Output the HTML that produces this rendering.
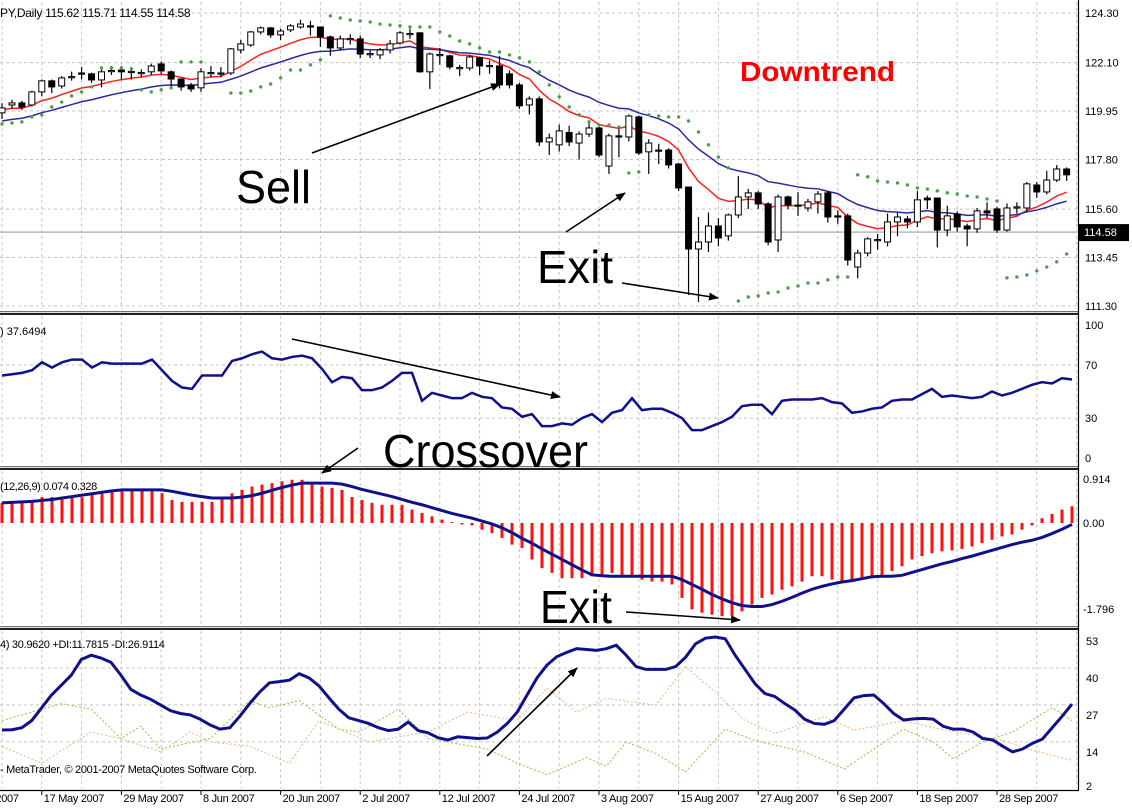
<!DOCTYPE html>
<html><head><meta charset="utf-8"><style>
html,body{margin:0;padding:0;background:#fff;}
svg{display:block;font-family:"Liberation Sans",sans-serif;}
</style></head><body>
<svg id="chart" width="1132" height="810" viewBox="0 0 1132 810" xmlns="http://www.w3.org/2000/svg">
<defs><marker id="ah" markerWidth="10" markerHeight="8" refX="9" refY="4" orient="auto" markerUnits="userSpaceOnUse"><path d="M0,0 L10,4 L0,8 z" fill="#000"/></marker></defs>
<rect x="0" y="0" width="1132" height="810" fill="#fff"/>
</svg>
<script>
const opens=[119.87,120.22,120.31,120.22,120.80,121.29,121.06,121.44,121.64,121.60,121.33,121.73,121.77,121.69,121.64,121.69,122.04,121.69,121.37,121.11,120.98,121.64,121.64,121.64,122.66,122.88,123.46,123.64,123.33,123.55,123.68,123.73,123.68,123.24,122.75,123.15,123.15,122.48,122.44,122.66,122.97,123.37,123.42,121.69,122.44,122.40,121.86,121.86,122.31,121.95,121.95,121.60,121.11,120.22,120.49,118.58,118.45,119.00,118.53,118.93,119.20,117.51,118.85,118.80,119.69,118.14,118.22,118.22,117.60,116.58,113.83,114.14,114.85,114.41,115.34,116.14,116.32,115.83,114.23,116.14,115.78,115.65,115.92,116.32,115.30,115.30,113.03,113.65,114.23,114.14,115.03,115.16,115.03,116.09,116.09,114.67,115.38,114.85,114.72,115.52,115.61,114.67,115.68,115.65,116.67,116.36,116.89,117.38];
const closes=[120.09,120.31,120.13,120.80,121.29,121.02,121.42,121.48,121.62,121.33,121.69,121.75,121.69,121.71,121.66,121.95,121.73,121.37,121.02,120.93,121.69,121.66,121.62,122.71,122.93,123.46,123.64,123.33,123.50,123.73,123.81,123.71,123.24,122.75,123.15,123.17,122.48,122.50,122.66,122.93,123.42,123.39,121.69,122.48,122.46,121.91,121.88,122.35,121.95,121.97,121.11,121.11,120.18,120.49,118.58,118.76,119.07,118.58,118.93,119.20,118.00,118.85,118.83,119.73,118.09,118.53,118.20,117.56,116.54,113.83,114.14,114.85,114.32,115.34,116.14,116.32,115.83,114.14,116.14,115.78,115.76,115.92,116.27,115.25,115.28,113.34,113.65,114.28,114.25,115.03,115.25,115.03,116.01,116.01,114.67,115.30,114.81,114.72,115.52,115.43,114.67,115.65,115.70,116.72,116.36,116.89,117.38,117.12];
const highs=[120.30,120.45,120.40,120.85,121.35,121.35,121.50,121.70,121.90,121.65,121.80,121.95,121.95,121.90,121.80,122.05,122.15,121.75,121.40,121.20,121.85,121.95,121.90,122.75,123.10,123.50,123.70,123.68,123.60,123.80,124.00,123.95,123.70,123.30,123.30,123.35,123.30,122.65,122.75,123.10,123.50,123.60,123.45,122.55,122.75,122.45,122.00,122.45,122.35,122.20,122.40,121.75,121.20,120.60,120.60,118.95,119.35,119.30,119.05,119.40,119.25,118.95,119.20,119.80,119.75,118.70,118.50,118.30,117.65,116.60,115.25,115.45,115.20,115.40,117.07,116.50,116.40,115.90,116.25,116.20,116.35,116.05,116.40,116.40,115.55,115.40,113.80,114.35,114.50,115.40,115.45,115.30,116.40,116.20,116.10,115.75,115.50,114.95,115.65,115.90,115.70,115.85,115.90,116.80,116.80,117.30,117.55,117.45];
const lows=[119.60,120.05,120.00,120.15,120.60,120.75,120.95,121.30,121.35,121.20,121.00,121.55,121.35,121.35,121.45,121.55,121.60,121.00,120.85,120.80,120.80,121.45,121.45,121.55,122.50,122.80,123.35,123.20,123.10,123.45,123.60,123.30,122.80,122.40,122.65,122.90,122.30,122.30,122.25,122.50,122.90,123.15,121.65,120.93,122.00,121.80,121.50,121.75,121.55,121.60,120.95,120.95,120.05,119.80,118.40,118.00,118.15,118.40,117.80,118.80,117.90,117.16,117.90,118.60,118.00,117.16,117.60,117.40,116.40,111.79,111.48,113.70,113.95,114.20,115.20,115.60,115.60,114.00,113.70,115.60,115.30,115.50,115.40,115.00,114.95,113.10,112.53,113.50,113.80,113.95,114.40,114.75,114.80,115.60,113.90,114.40,114.60,113.95,114.55,115.20,114.55,114.60,115.40,115.50,116.10,116.25,116.80,116.85];
const sarValues=[119.38,119.42,119.47,119.69,119.78,120.13,120.35,120.62,120.80,121.02,121.86,121.86,121.86,121.82,120.89,120.80,120.89,120.98,122.13,122.13,122.13,null,null,120.75,120.75,120.84,121.02,121.15,121.42,121.77,121.77,122.00,122.22,124.17,124.08,123.99,123.95,123.90,123.81,123.77,123.73,123.68,123.68,123.68,123.46,123.28,123.06,122.93,122.75,122.57,122.57,122.44,122.31,122.13,121.69,121.11,120.58,120.13,119.78,119.47,119.33,119.33,119.24,117.20,117.25,119.78,119.73,119.69,119.69,119.51,119.02,118.45,117.91,117.43,111.52,111.70,111.75,111.88,111.92,112.10,112.19,112.32,112.32,112.46,112.59,112.59,117.12,117.03,116.85,116.80,116.76,116.67,116.54,116.49,116.41,116.32,116.27,116.18,116.14,116.05,115.96,112.55,112.59,112.68,112.86,113.03,113.26,113.61];
const rsiValues=[62,63,64,66,72,68,72,74,74,68,72,71,71,71,71,74,66,58,53,52,62,62,62,73,75,78,80,75,74,76,77,75,67,57,61,60,51,51,53,58,64,64,43,49,47,45,45,49,46,45,38,37,31,33,24,24,26,25,30,33,27,34,36,45,36,37,37,34,30,21,21,24,27,31,39,40,40,33,43,44,44,44,45,42,41,34,35,37,38,43,44,44,48,52,46,47,46,45,46,50,47,49,52,55,57,56,60,59];
const macdHist=[0.42,0.43,0.43,0.43,0.54,0.54,0.54,0.54,0.54,0.60,0.65,0.69,0.69,0.69,0.69,0.69,0.62,0.48,0.44,0.44,0.44,0.44,0.54,0.62,0.69,0.76,0.80,0.83,0.87,0.90,0.90,0.83,0.76,0.73,0.69,0.54,0.48,0.42,0.38,0.38,0.38,0.28,0.21,0.14,0.07,0.02,-0.03,-0.05,-0.14,-0.21,-0.31,-0.45,-0.52,-0.76,-0.94,-1.04,-1.15,-1.15,-1.15,-1.11,-1.08,-1.04,-1.08,-1.11,-1.18,-1.22,-1.22,-1.28,-1.56,-1.80,-1.87,-1.91,-1.94,-1.94,-1.84,-1.70,-1.56,-1.49,-1.39,-1.32,-1.22,-1.11,-1.11,-1.18,-1.22,-1.22,-1.18,-1.15,-1.11,-1.00,-0.90,-0.76,-0.69,-0.63,-0.59,-0.57,-0.54,-0.49,-0.42,-0.35,-0.28,-0.24,-0.14,-0.05,0.10,0.19,0.28,0.35];
const macdSignal=[0.42,0.43,0.44,0.45,0.47,0.49,0.52,0.55,0.58,0.61,0.64,0.67,0.69,0.69,0.69,0.69,0.69,0.66,0.62,0.58,0.55,0.52,0.52,0.52,0.54,0.57,0.62,0.68,0.74,0.79,0.83,0.83,0.83,0.83,0.81,0.76,0.70,0.65,0.60,0.55,0.49,0.43,0.38,0.32,0.26,0.20,0.15,0.10,0.04,-0.02,-0.10,-0.20,-0.32,-0.42,-0.54,-0.65,-0.76,-0.87,-0.98,-1.08,-1.10,-1.11,-1.11,-1.11,-1.11,-1.11,-1.11,-1.11,-1.18,-1.28,-1.38,-1.49,-1.58,-1.66,-1.72,-1.74,-1.74,-1.70,-1.63,-1.55,-1.46,-1.38,-1.32,-1.27,-1.23,-1.20,-1.16,-1.12,-1.11,-1.11,-1.09,-1.03,-0.97,-0.91,-0.85,-0.80,-0.74,-0.69,-0.63,-0.57,-0.51,-0.45,-0.40,-0.36,-0.30,-0.22,-0.13,-0.03];
const adxValues=[21.7,21.8,22.5,25,29.5,34,37.5,41,46.5,48,47,45.5,41,36,34,32.5,30.5,28.5,27.5,27,25.5,23.5,22,22.5,26.5,31,35,38.3,38.7,39.2,41.5,40,37.2,33,29,26,25,24,22.5,21.5,22,24.5,21.5,20.7,19,18.2,19.3,19,18.7,18.9,21,24,28,34,40,44.5,47.5,49,50.3,50,49.7,50.3,51.5,48,44,43,43,43,44,47.3,52,54,54.4,53.8,48,43,38,34.5,33.5,31,28.8,25.5,24,23.7,25,29,33,33.8,34,31,27.5,25.2,25.6,25.8,25.5,23,22,22,21,18.7,18.2,16,14,15,17,18.5,22.5,26.5,30.8];
const plusDiIndex=[0,6,9,12,14,16,21,25,27,30,34,36,40,43,49,52,55,59,61,63,66,69,73,76,81,85,91,94,96,99,102,106,108];
const plusDiValues=[25,31,29,18.7,23,15,18.7,32,29.5,32,22,21,29,18.7,15,10,6,12,9,17.5,13.4,7,22,18,14,8,22,17.5,11.6,17.5,21,29.5,25];
const minusDiIndex=[0,4,9,12,16,19,21,25,29,32,37,43,47,52,55,58,61,66,69,72,75,78,83,86,91,94,97,101,104,108];
const minusDiValues=[16,10,21,18.7,14,21,17.5,16,10,25,17.5,21,28,25,36.5,28,32.8,30.4,44,35,25,20.5,26.4,21.6,25,22.5,20.5,18,14.6,11];
const priceTicks=[124.30,122.10,119.95,117.80,115.60,113.45,111.30];
const priceTickLabels=["124.30","122.10","119.95","117.80","115.60","113.45","111.30"];
const rsiTicks=[100,70,30,0];
const macdTicks=[0.914,0,-1.796];
const macdTickLabels=["0.914","0.00","-1.796"];
const adxTicks=[53,40,27,14,2];
const dateTickBars=[-4,4,12,20,28,36,44,52,60,68,76,84,92,100];
const dateTickLabels=["9 May 2007","17 May 2007","29 May 2007","8 Jun 2007","20 Jun 2007","2 Jul 2007","12 Jul 2007","24 Jul 2007","3 Aug 2007","15 Aug 2007","27 Aug 2007","6 Sep 2007","18 Sep 2007","28 Sep 2007"];
const lastPrice=114.58;

const NS="http://www.w3.org/2000/svg";
const svg=document.getElementById('chart');
function mk(tag,attrs,parent){const e=document.createElementNS(NS,tag);for(const k in attrs)e.setAttribute(k,attrs[k]);(parent||svg).appendChild(e);return e;}
const PLOT_R=1077;
const xB=i=>2+9.95*i;
const xI=(i,n)=>2+i*(1072-2)/(n-1);
const yP=p=>13+(124.30-p)*22.54;
const yR=v=>458-v*1.33;
const yM=v=>523-v*48;
const yA=v=>641+(53-v)*2.843;
const panels=[[0,311],[314,466],[469,626],[629,790]];

// vertical grid
for(let b=0;xB(b)<PLOT_R;b+=4){
  for(const [t,bt] of panels){
    const g=mk('line',{x1:xB(b),x2:xB(b),y1:t+2,y2:bt-2,stroke:'#c4c4c4','stroke-dasharray':'3,3','stroke-width':1});
    
    
  }
}
// price grid + labels
priceTicks.forEach((p,k)=>{
  const g=mk('line',{x1:0,x2:PLOT_R,y1:yP(p),y2:yP(p),stroke:'#c4c4c4','stroke-dasharray':'3,3'});
  
  
  const t=mk('text',{x:1085,y:yP(p)+4,'font-size':11,fill:'#000'});
  t.textContent=priceTickLabels[k];
  
  
});
rsiTicks.forEach(v=>{
  if(v===70||v===30){const g=mk('line',{x1:0,x2:PLOT_R,y1:yR(v),y2:yR(v),stroke:'#c4c4c4','stroke-dasharray':'3,3'});
  
  }
  const t=mk('text',{x:1085,y:yR(v)+4,'font-size':11});
  t.textContent=String(v);
  
  
});
macdTicks.forEach((v,k)=>{
  const t=mk('text',{x:1083,y:yM(v)+4,'font-size':11});
  t.textContent=macdTickLabels[k];
  
  
});
adxTicks.forEach(v=>{
  if(v===40||v===27||v===14){const g=mk('line',{x1:0,x2:PLOT_R,y1:yA(v)-10,y2:yA(v)-10,stroke:'#c4c4c4','stroke-dasharray':'3,3'});
  
  }
  const t=mk('text',{x:1086,y:yA(v)+4,'font-size':11});
  t.textContent=String(v);
  
  
});

// last price line
const lp=mk('line',{x1:0,x2:PLOT_R,y1:yP(lastPrice),y2:yP(lastPrice),stroke:'#b8b8b8','stroke-width':1.5});



// moving averages
function ema(arr,n,seed){const k=2/(n+1);let v=seed;return arr.map(c=>v=v+k*(c-v));}
const fastMA=ema(closes,10,120.0), slowMA=ema(closes,21,119.45);
const maFast=mk('polyline',{points:fastMA.map((v,i)=>xB(i)+','+yP(v)).join(' '),fill:'none',stroke:'#ff2020','stroke-width':1.5});


const maSlow=mk('polyline',{points:slowMA.map((v,i)=>xB(i)+','+yP(v)).join(' '),fill:'none',stroke:'#2a2aa0','stroke-width':1.5});



// candles
opens.forEach((o,i)=>{
  const c=closes[i],x=xB(i);
  const w=mk('line',{x1:x,x2:x,y1:yP(highs[i]),y2:yP(lows[i]),stroke:'#000','stroke-width':1.2});
  
  
  const top=Math.min(yP(o),yP(c)),h=Math.max(1.2,Math.abs(yP(o)-yP(c)));
  const bull=c>=o;
  const r=mk('rect',{x:x-3,y:top,width:6,height:h,fill:bull?'#fff':'#000',stroke:'#000','stroke-width':1});
  
  
});
// SAR
sarValues.forEach((v,i)=>{
  if(v===null)return;
  const d=mk('circle',{cx:xB(i),cy:yP(v),r:1.7,fill:'#4aa04a'});
  
  
});

// RSI line
const rsiL=mk('polyline',{points:rsiValues.map((v,i)=>xI(i,rsiValues.length)+','+yR(v)).join(' '),fill:'none',stroke:'#10108a','stroke-width':2.5});



// MACD histogram
macdHist.forEach((v,i)=>{
  const x=xI(i,macdHist.length);
  const b=mk('rect',{x:x-1.5,y:Math.min(yM(0),yM(v)),width:3,height:Math.max(1,Math.abs(yM(v)-yM(0))),fill:'#ff1010'});
  
  
});
const sig=mk('polyline',{points:macdSignal.map((v,i)=>xI(i,macdSignal.length)+','+yM(v)).join(' '),fill:'none',stroke:'#10108a','stroke-width':3});



// ADX
const nA=adxValues.length;
const pdi=mk('polyline',{points:plusDiIndex.map((b,k)=>xI(b,nA)+','+yA(plusDiValues[k])).join(' '),fill:'none',stroke:'#8cc83c','stroke-width':1,'stroke-dasharray':'2,2'});


const mdi=mk('polyline',{points:minusDiIndex.map((b,k)=>xI(b,nA)+','+yA(minusDiValues[k])).join(' '),fill:'none',stroke:'#f4b27c','stroke-width':1,'stroke-dasharray':'2,2'});


const adxL=mk('polyline',{points:adxValues.map((v,i)=>xI(i,nA)+','+yA(v)).join(' '),fill:'none',stroke:'#10108a','stroke-width':3});



// date labels
dateTickBars.forEach((b,k)=>{
  const x=xB(b);
  const tk=mk('line',{x1:x,x2:x,y1:790,y2:795,stroke:'#000'});
  
  
  const t=mk('text',{x:x+2,y:802,'font-size':11,'letter-spacing':'-0.3'});
  t.textContent=dateTickLabels[k];
  
  
});

// white cover on right axis area (keep plot clipped)
// separators
[[311,313],[466,468],[626,628]].forEach(([a,b])=>{
  const l1=mk('rect',{x:0,y:a,width:PLOT_R+2,height:1.2,fill:'#707070'});
  
  
  const l2=mk('rect',{x:0,y:b,width:PLOT_R+2,height:2,fill:'#202020'});
  
  
});
const ax=mk('line',{x1:1078.5,x2:1078.5,y1:0,y2:790,stroke:'#000','stroke-width':1.2});


const bx=mk('line',{x1:0,x2:1079,y1:790.5,y2:790.5,stroke:'#000','stroke-width':1.2});



// last price label
const lb=mk('rect',{x:1079,y:yP(lastPrice)-8,width:50,height:17,fill:'#000'});


const lt=mk('text',{x:1084,y:yP(lastPrice)+4,'font-size':11,fill:'#fff'});
lt.textContent=lastPrice.toFixed(2);



function txt(s,attrs,name){const t=mk('text',attrs);t.textContent=s;
  
  
  return t;}
txt('PY,Daily  115.62 115.71 114.55 114.58',{x:0,y:17,'font-size':12,'letter-spacing':'-0.3','xml:space':'preserve'},'price-panel-header');
txt(') 37.6494',{x:0,y:335,'font-size':11},'rsi-header');
txt('(12,26,9) 0.074 0.328',{x:0,y:490,'font-size':11,'letter-spacing':'-0.4'},'macd-header');
txt('4) 30.9620 +DI:11.7815 -DI:26.9114',{x:0,y:648,'font-size':11,'letter-spacing':'-0.3'},'adx-header');
txt('- MetaTrader, © 2001-2007 MetaQuotes Software Corp.',{x:0,y:773,'font-size':11,'letter-spacing':'-0.3'},'copyright-note');
txt('Downtrend',{x:740,y:81,'font-size':28,'font-weight':'bold',fill:'#ff0000',textLength:155,lengthAdjust:'spacingAndGlyphs'},'downtrend-label');
txt('Sell',{x:236,y:203,'font-size':46,textLength:75,lengthAdjust:'spacingAndGlyphs'},'sell-annotation');
txt('Exit',{x:537,y:283,'font-size':46,textLength:76,lengthAdjust:'spacingAndGlyphs'},'price-exit-annotation');
txt('Crossover',{x:383,y:467,'font-size':46,textLength:205,lengthAdjust:'spacingAndGlyphs'},'crossover-annotation');
txt('Exit',{x:540,y:623,'font-size':46,textLength:72,lengthAdjust:'spacingAndGlyphs'},'macd-exit-annotation');

function arrow(x1,y1,x2,y2,name){const a=mk('line',{x1,y1,x2,y2,stroke:'#000','stroke-width':1.6,'marker-end':'url(#ah)'});
  
  }
arrow(312,153,500,84,'sell-arrow');
arrow(566,232,625,193,'exit-arrow-up');
arrow(622,283,718,298,'exit-arrow-down');
arrow(292,339,560,397,'rsi-trend-arrow');
arrow(358,448,322,473,'crossover-arrow');
arrow(626,612,740,620,'macd-exit-arrow');
arrow(487,756,577,668,'adx-rise-arrow');
</script>
</body></html>
